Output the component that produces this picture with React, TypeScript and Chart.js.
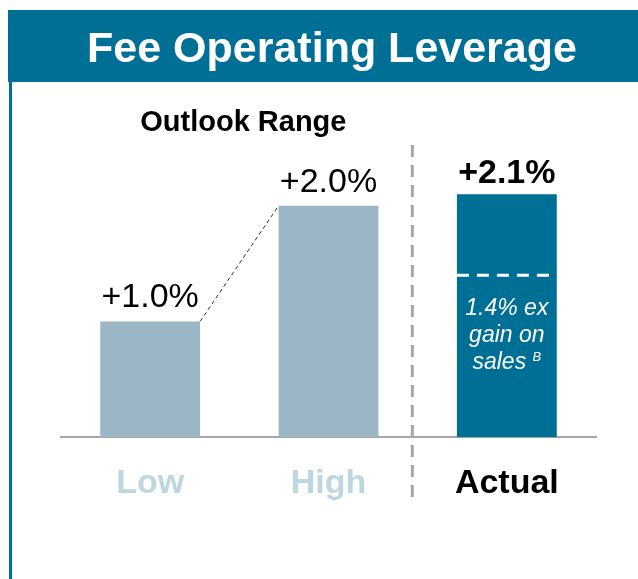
import React, { useEffect, useRef } from 'react';
import { Chart, registerables } from 'chart.js';

Chart.register(...registerables);

// ---- data ----
const title = 'Fee Operating Leverage';
const groupTitle = 'Outlook Range';
const categories = ['Low', 'High', 'Actual'];
const values = [1.0, 2.0, 2.1];
const exGainValue = 1.4;
const exGainNote = ['1.4% ex', 'gain on', 'sales'];
const footnoteMark = 'B';
const separatorAt = 1.47;
const yMin = 0;
const yMax = 3;

// ---- styles ----
const TEAL = '#006F96';
const LIGHT = '#9BB7C5';
const LIGHT_LABEL = '#BCD6E2';
const GRAY = '#A6A6A6';
const FONT = '"Liberation Sans", Arial, Helvetica, sans-serif';
const W = 638;
const H = 579;

const fmt = (v: number) => '+' + v.toFixed(1) + '%';

const decorPlugin = {
  id: 'decor',
  beforeDraw(chart: any) {
    const ctx = chart.ctx;
    ctx.save();
    ctx.fillStyle = '#ffffff';
    ctx.fillRect(0, 0, W, H);
    // header band
    ctx.fillStyle = TEAL;
    ctx.fillRect(8, 10, W - 8, 72);
    // left border
    ctx.fillRect(9, 82, 3, H - 82);
    // title
    ctx.fillStyle = '#ffffff';
    ctx.font = `bold 43px ${FONT}`;
    ctx.textAlign = 'center';
    ctx.textBaseline = 'alphabetic';
    ctx.fillText(title, 332, 62);
    ctx.restore();
  },
  afterDatasetsDraw(chart: any) {
    const ctx = chart.ctx;
    const meta = chart.getDatasetMeta(0);
    const bars = meta.data;
    const x = chart.scales.x;
    const y = chart.scales.y;
    ctx.save();

    // value labels
    ctx.textAlign = 'center';
    ctx.textBaseline = 'alphabetic';
    bars.forEach((b: any, i: number) => {
      const last = i === bars.length - 1;
      ctx.font = `${last ? 'bold ' : ''}34px ${FONT}`;
      ctx.fillStyle = '#000000';
      ctx.fillText(fmt(values[i]), b.x, b.y - (last ? 11 : 14));
    });

    // group title over outlook bars
    ctx.font = `bold 29px ${FONT}`;
    ctx.fillText(groupTitle, (bars[0].x + bars[1].x) / 2 + 4, 131);

    // connector dashed line between Low and High tops
    const b0 = bars[0];
    const b1 = bars[1];
    ctx.beginPath();
    ctx.setLineDash([4, 3]);
    ctx.lineWidth = 1;
    ctx.strokeStyle = '#333333';
    ctx.moveTo(b0.x + b0.width / 2, b0.y);
    ctx.lineTo(b1.x - b1.width / 2, b1.y);
    ctx.stroke();

    // vertical separator
    const sx = x.getPixelForValue(separatorAt);
    ctx.beginPath();
    ctx.setLineDash([12, 8]);
    ctx.lineWidth = 3;
    ctx.strokeStyle = GRAY;
    ctx.moveTo(sx, 145);
    ctx.lineTo(sx, 503);
    ctx.stroke();

    // white dashed line inside actual bar
    const ba = bars[2];
    const gy = y.getPixelForValue(exGainValue);
    ctx.beginPath();
    ctx.setLineDash([12, 8]);
    ctx.lineWidth = 3;
    ctx.strokeStyle = '#ffffff';
    ctx.moveTo(ba.x - ba.width / 2, gy);
    ctx.lineTo(ba.x + ba.width / 2 - 4, gy);
    ctx.stroke();
    ctx.setLineDash([]);

    // note text
    ctx.fillStyle = '#ffffff';
    ctx.font = `italic 23px ${FONT}`;
    ctx.textAlign = 'center';
    const base = gy + 40;
    exGainNote.forEach((line, i) => {
      if (i === exGainNote.length - 1) {
        ctx.font = `italic 23px ${FONT}`;
        const w1 = ctx.measureText(line + ' ').width;
        ctx.font = `13px ${FONT}`;
        const w2 = ctx.measureText(footnoteMark).width;
        const start = ba.x - (w1 + w2) / 2;
        ctx.textAlign = 'left';
        ctx.font = `italic 23px ${FONT}`;
        ctx.fillText(line, start, base + i * 27);
        ctx.font = `italic 13px ${FONT}`;
        ctx.fillText(footnoteMark, start + w1, base + i * 27 - 8);
        ctx.textAlign = 'center';
      } else {
        ctx.fillText(line, ba.x, base + i * 27);
      }
    });

    ctx.restore();
  },
};

export default function App() {
  const ref = useRef<HTMLCanvasElement>(null);
  useEffect(() => {
    document.body.style.margin = '0';
    if (!ref.current) return;
    const chart = new Chart(ref.current, {
      type: 'bar',
      data: {
        labels: categories,
        datasets: [
          {
            data: values,
            backgroundColor: [LIGHT, LIGHT, TEAL],
            barPercentage: 0.56,
            categoryPercentage: 1,
          },
        ],
      },
      options: {
        responsive: false,
        animation: false,
        devicePixelRatio: 1,
        layout: { padding: { top: 90, left: 61, right: 42, bottom: 49 } },
        plugins: { legend: { display: false }, tooltip: { enabled: false }, title: { display: false } },
        scales: {
          y: { display: false, min: yMin, max: yMax },
          x: {
            grid: { display: false, drawTicks: false },
            border: { display: true, color: GRAY, width: 2 },
            ticks: {
              autoSkip: false,
              maxRotation: 0,
              padding: 26,
              font: { family: FONT, size: 34, weight: 'bold' },
              color: (c: any) => (c.index === 2 ? '#000000' : LIGHT_LABEL),
            },
          },
        },
      },
      plugins: [decorPlugin],
    });
    return () => chart.destroy();
  }, []);
  return (
    <div style={{ width: W, height: H }}>
      <canvas ref={ref} width={W} height={H} style={{ display: 'block' }} />
    </div>
  );
}
